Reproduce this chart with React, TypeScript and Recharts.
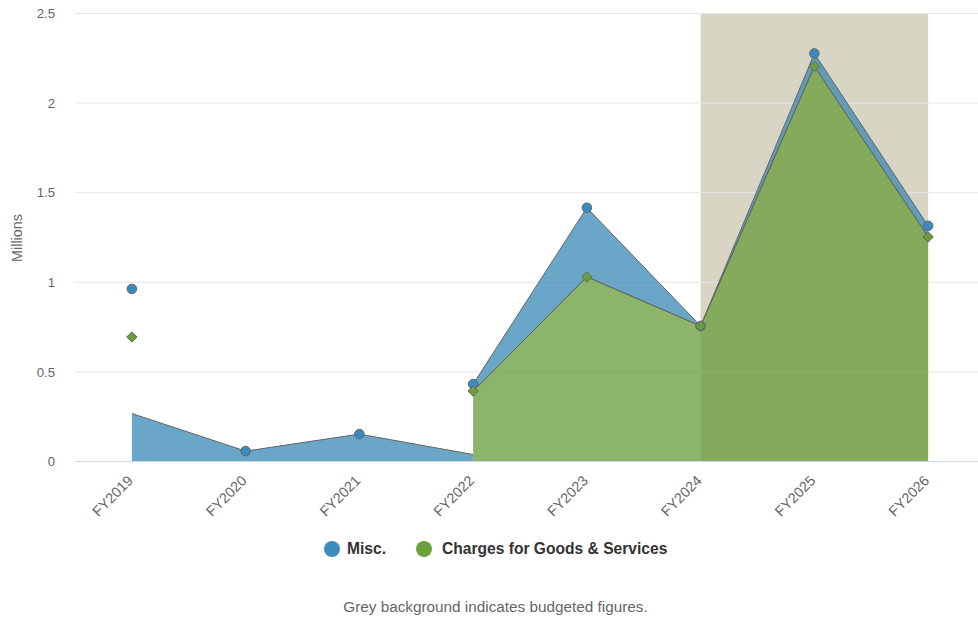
import React from "react";
import {
  Area,
  CartesianGrid,
  ComposedChart,
  Line,
  ReferenceArea,
  XAxis,
  YAxis,
} from "recharts";

const categories = ["FY2019", "FY2020", "FY2021", "FY2022", "FY2023", "FY2024", "FY2025", "FY2026"];
// stacked increments
const miscValues = [0.268, 0.058, 0.153, 0.039, 0.386, 0.0, 0.072, 0.062];
const chargesValues: (number | null)[] = [0.695, null, null, 0.393, 1.03, 0.756, 2.205, 1.253];
const yTicks = [0, 0.5, 1, 1.5, 2, 2.5];
const budgetedFrom = "FY2024";
const budgetedTo = "FY2026";

const FONT = '"Liberation Sans", Arial, Helvetica, sans-serif';
const BLUE = "#3888b6";
const GREEN = "#679c38";

const has = (j: number) => chargesValues[j] != null;

const data = categories.map((name, i) => {
  const c = chargesValues[i];
  const m = miscValues[i];
  const low = !has(i) || (i > 0 && !has(i - 1)) || (i < categories.length - 1 && !has(i + 1));
  const high = has(i) && (has(i - 1) || has(i + 1));
  return {
    name,
    miscLow: low ? m : null,
    miscBand: high && c != null ? [c, c + m] : null,
    charges: high ? c : null,
    miscMarker: c != null ? c + m : m,
    chargesMarker: c,
  };
});

function XTick({ x, y, payload }: any) {
  return (
    <text
      x={x + 2}
      y={y + 20}
      textAnchor="end"
      transform={`rotate(-45 ${x + 2} ${y + 20})`}
      fill="#666"
      fontSize={14.4}
      fontFamily={FONT}
    >
      {payload.value}
    </text>
  );
}

function CircleDot({ cx, cy, value }: any) {
  if (value == null || cx == null || cy == null) return null;
  return <circle cx={cx} cy={cy} r={4.8} fill="#3a8bbf" stroke="#666" strokeWidth={1} />;
}

function DiamondDot({ cx, cy, value }: any) {
  if (value == null || cx == null || cy == null) return null;
  const s = 5.2;
  return (
    <path
      d={`M${cx},${cy - s} L${cx + s},${cy} L${cx},${cy + s} L${cx - s},${cy} Z`}
      fill="#6a9e3b"
      stroke="#666"
      strokeWidth={1}
    />
  );
}

export default function App() {
  return (
    <div
      style={{
        position: "absolute",
        left: 0,
        top: 0,
        width: 978,
        height: 621,
        overflow: "hidden",
        background: "#fff",
        fontFamily: FONT,
      }}
    >
      <ComposedChart
        width={990}
        height={540}
        data={data}
        margin={{ top: 13.5, right: 5, bottom: 18.5, left: 15 }}
      >
        <ReferenceArea
          x1={budgetedFrom}
          x2={budgetedTo}
          y1={0}
          y2={2.5}
          fill="#d8d5c4"
          fillOpacity={1}
          stroke="none"
          zIndex={-200}
        />
        <CartesianGrid vertical={false} stroke="#e6e6e6" />
        <XAxis
          dataKey="name"
          height={60}
          padding={{ left: 56.875, right: 56.875 }}
          tickLine={false}
          tickSize={0}
          tickMargin={0}
          axisLine={{ stroke: "#ccd6eb" }}
          tick={<XTick />}
          interval={0}
        />
        <YAxis
          width={60}
          domain={[0, 2.5]}
          ticks={yTicks}
          axisLine={false}
          tickLine={false}
          tickSize={0}
          tickMargin={20}
          tick={{ fill: "#666", fontSize: 13.2, fontFamily: FONT }}
        />
        <Area
          type="linear"
          dataKey="miscLow"
          fill={BLUE}
          fillOpacity={0.75}
          stroke="#666"
          strokeWidth={1}
          isAnimationActive={false}
          dot={false}
          activeDot={false}
        />
        <Area
          type="linear"
          dataKey="miscBand"
          fill={BLUE}
          fillOpacity={0.75}
          stroke="#666"
          strokeWidth={1}
          isAnimationActive={false}
          dot={false}
          activeDot={false}
        />
        <Area
          type="linear"
          dataKey="charges"
          fill={GREEN}
          fillOpacity={0.75}
          stroke="#666"
          strokeWidth={1}
          isAnimationActive={false}
          dot={false}
          activeDot={false}
        />
        <Line
          dataKey="miscMarker"
          stroke="none"
          dot={<CircleDot />}
          activeDot={false}
          isAnimationActive={false}
        />
        <Line
          dataKey="chargesMarker"
          stroke="none"
          dot={<DiamondDot />}
          activeDot={false}
          isAnimationActive={false}
        />
      </ComposedChart>

      <div
        style={{
          position: "absolute",
          left: 17,
          top: 237.5,
          transform: "translate(-50%, -50%) rotate(-90deg)",
          fontSize: 14.4,
          color: "#666",
          whiteSpace: "nowrap",
        }}
      >
        Millions
      </div>

      <div
        style={{
          position: "absolute",
          left: 324,
          top: 540,
          height: 18,
          display: "flex",
          alignItems: "center",
          fontSize: 15.6,
          fontWeight: "bold",
          color: "#333",
          whiteSpace: "nowrap",
        }}
      >
        <span style={{ width: 16, height: 16, borderRadius: 8, background: "#3d8cc0", display: "inline-block" }} />
        <span style={{ marginLeft: 7 }}>Misc.</span>
        <span
          style={{ width: 16, height: 16, borderRadius: 8, background: "#6ba23b", display: "inline-block", marginLeft: 30 }}
        />
        <span style={{ marginLeft: 10 }}>Charges for Goods &amp; Services</span>
      </div>

      <div
        style={{
          position: "absolute",
          left: 0,
          width: 991,
          top: 598,
          textAlign: "center",
          fontSize: 15.3,
          color: "#666",
          whiteSpace: "nowrap",
        }}
      >
        Grey background indicates budgeted figures.
      </div>
    </div>
  );
}
